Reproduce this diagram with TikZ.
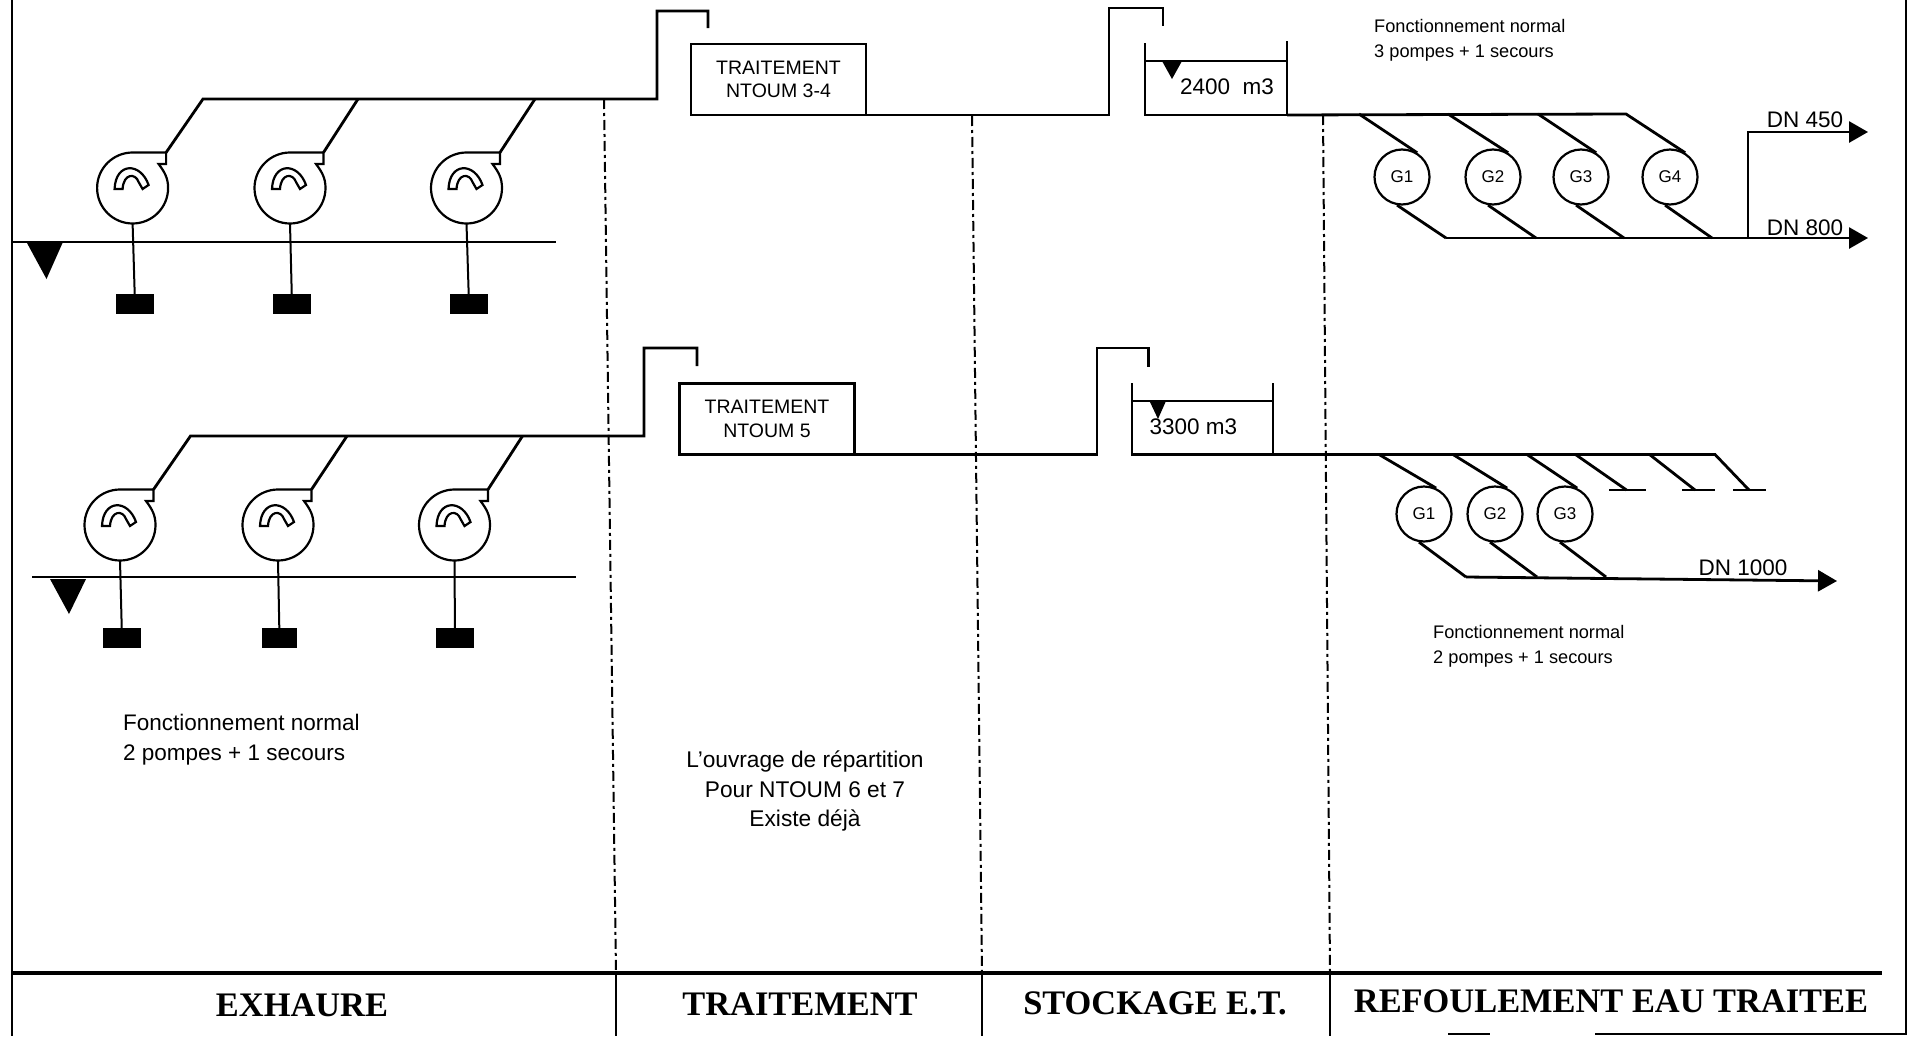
\documentclass[tikz,border=0pt]{standalone}
\usepackage{fontspec}
\setmainfont{Liberation Sans}
\newfontfamily\titrefont{Liberation Serif}
\usetikzlibrary{arrows.meta}
\newcommand{\taille}[1]{\fontsize{#1}{#1}\selectfont}
\tikzset{
    pompe/.pic = {
        \draw[pompeline] (33.5,-35.5) -- (0,-35.5) arc[start angle=90, end angle=360, radius=35.5pt]
            .. controls (35.5,-10) and (32,-16) .. (26,-24) -- (33.5,-24) -- cycle;
        \draw[pompeline] (-18,1) .. controls (-17,-26) and (8,-26) .. (16,-3) -- (10,1) -- (6,-6)
            .. controls (3,-15) and (-9,-15) .. (-10,1) -- cycle;
        \coordinate (-out) at (33.5,-35.5);
        \coordinate (-in) at (0,35.5);
    }
}
\begin{document}
\begin{tikzpicture}[x=1pt, y=-1pt,
        conduite/.style = {line width=2.8pt, line join=miter},
        fine/.style = {line width=2pt},
        pompeline/.style = {line width=2.2pt},
        cadre/.style = {line width=2.2pt},
        limite/.style = {line width=2pt, dash pattern=on 10pt off 4pt on 3pt off 4pt},
        fleche/.style = {line width=2.8pt, -{Triangle[length=19pt, width=21pt]}},
        main/.style = {draw, line width=2.4pt, inner sep=0pt, outer sep=0pt, align=center, font=\taille{19.5}},
        groupe/.style = {draw, circle, line width=2.2pt, inner sep=0pt, minimum size=55pt, font=\taille{17}},
        bloc/.style = {fill=black, inner sep=0pt, minimum width=38pt, minimum height=20pt},
        niveau/.style = {fill=black, draw=none},
        texte/.style = {inner sep=0pt, align=left, anchor=west},
        titre/.style = {inner sep=0pt, font=\titrefont\bfseries\taille{34.4}}]
    \useasboundingbox (0,0) rectangle (1910,1036);

    % cadre et colonnes
    \coordinate (cadreA) at (12,0);
    \coordinate (cadreB) at (12,1036);
    \coordinate (cadreC) at (1906,0);
    \coordinate (cadreD) at (1906,1034);
    \coordinate (cadreE) at (1595,1034);
    \coordinate (cadreF) at (1448,1034);
    \coordinate (cadreG) at (1490,1034);
    \coordinate (baseA) at (12,973);
    \coordinate (baseB) at (1882,973);
    \draw[cadre] (cadreA) -- (cadreB);
    \draw[cadre] (cadreC) -- (cadreD) -- (cadreE);
    \draw[cadre] (cadreF) -- (cadreG);
    \draw[line width=3.4pt] (baseA) -- (baseB);

    \coordinate (limA1) at (604,99);
    \coordinate (limA2) at (616,973);
    \coordinate (limA3) at (616,1036);
    \coordinate (limB1) at (972,116);
    \coordinate (limB2) at (982,973);
    \coordinate (limB3) at (982,1036);
    \coordinate (limC1) at (1323,115);
    \coordinate (limC2) at (1330,973);
    \coordinate (limC3) at (1330,1036);
    \draw[limite] (limA1) -- (limA2);
    \draw[limite] (limB1) -- (limB2);
    \draw[limite] (limC1) -- (limC2);
    \draw[fine] (limA2) -- (limA3);
    \draw[fine] (limB2) -- (limB3);
    \draw[fine] (limC2) -- (limC3);

    \node[titre] (exhaure) at (302,1005) {EXHAURE};
    \node[titre] (traitement) at (800,1004) {TRAITEMENT};
    \node[titre] (stockage) at (1155,1003) {STOCKAGE E.T.};
    \node[titre] (refoulement) at (1611,1001) {REFOULEMENT EAU TRAITEE};

    % ligne du haut : exhaure
    \pic (pA) at (132.6,188) {pompe};
    \pic (pB) at (290,188) {pompe};
    \pic (pC) at (466.5,188) {pompe};
    \node[bloc] (blocA) at (135,304) {};
    \node[bloc] (blocB) at (292,304) {};
    \node[bloc] (blocC) at (469,304) {};
    \coordinate (eauA) at (12,242);
    \coordinate (eauB) at (556,242);
    \draw[conduite] (eauA) -- (eauB);
    \draw[niveau] (27,243) -- (62.5,243) -- (46.5,279) -- cycle;
    \draw[fine] (pA-in) -- (blocA);
    \draw[fine] (pB-in) -- (blocB);
    \draw[fine] (pC-in) -- (blocC);

    \coordinate (haut1) at (203,99);
    \coordinate (haut2) at (358,99);
    \coordinate (haut3) at (535,99);
    \coordinate (haut4) at (657,99);
    \coordinate (haut5) at (657,11);
    \coordinate (haut6) at (708,11);
    \coordinate (haut7) at (708,28);
    \draw[conduite] (pA-out) -- (haut1) -- (haut4) -- (haut5) -- (haut6) -- (haut7);
    \draw[conduite] (pB-out) -- (haut2);
    \draw[conduite] (pC-out) -- (haut3);

    % ligne du haut : traitement et stockage
    \node[main, minimum width=175pt, minimum height=71pt] (traitA) at (778.5,79.5) {TRAITEMENT\\[4pt]NTOUM 3-4};
    \coordinate (tr1) at (1109,115);
    \coordinate (tr2) at (1109,8);
    \coordinate (tr3) at (1163,8);
    \coordinate (tr4) at (1163,26);
    \draw[conduite] (traitA.south east) -- (tr1) -- (tr2) -- (tr3) -- (tr4);

    \coordinate (cuveA1) at (1145,43);
    \coordinate (cuveA2) at (1145,115);
    \coordinate (cuveA3) at (1287,115);
    \coordinate (cuveA4) at (1287,41);
    \coordinate (cuveA5) at (1145,61);
    \coordinate (cuveA6) at (1287,61);
    \draw[conduite] (cuveA1) -- (cuveA2) -- (cuveA3) -- (cuveA4);
    \draw[conduite] (cuveA5) -- (cuveA6);
    \draw[niveau] (1162,61) -- (1182,61) -- (1172,79) -- cycle;
    \node[texte, font=\taille{22.5}] (volA) at (1180,87) {2400\ \ m3};
    \node[texte, font=\taille{18.2}] (noteA) at (1374,40) {Fonctionnement normal\\[6.5pt]3 pompes + 1 secours};

    % ligne du haut : refoulement
    \node[groupe] (gA1) at (1402,177) {G1};
    \node[groupe] (gA2) at (1493,177) {G2};
    \node[groupe] (gA3) at (1581,177) {G3};
    \node[groupe] (gA4) at (1670,177) {G4};
    \coordinate (colA1) at (1359,114);
    \coordinate (colA2) at (1448,114);
    \coordinate (colA3) at (1538,114);
    \coordinate (colA4) at (1626,114);
    \coordinate (refA1) at (1446,238);
    \coordinate (refA2) at (1536,238);
    \coordinate (refA3) at (1624,238);
    \coordinate (refA4) at (1712,238);
    \coordinate (refA5) at (1748,238);
    \coordinate (refA6) at (1748,132);
    \coordinate (refA7) at (1868,132);
    \coordinate (refA8) at (1868,238);
    \draw[conduite] (cuveA3) -- (colA4) -- (gA4.58);
    \draw[conduite] (colA1) -- (gA1.58);
    \draw[conduite] (colA2) -- (gA2.58);
    \draw[conduite] (colA3) -- (gA3.58);
    \draw[conduite] (gA1.260) -- (refA1);
    \draw[conduite] (gA2.260) -- (refA2);
    \draw[conduite] (gA3.260) -- (refA3);
    \draw[conduite] (gA4.260) -- (refA4);
    \draw[fleche] (refA1) -- (refA8);
    \draw[fleche] (refA5) -- (refA6) -- (refA7);
    \node[inner sep=0pt, font=\taille{22.5}] (dnA) at (1805,120) {DN 450};
    \node[inner sep=0pt, font=\taille{22.5}] (dnB) at (1805,228) {DN 800};

    % ligne du bas : exhaure
    \pic (pD) at (120,525) {pompe};
    \pic (pE) at (278,525) {pompe};
    \pic (pF) at (454.5,525) {pompe};
    \node[bloc] (blocD) at (122,638) {};
    \node[bloc, minimum width=35pt] (blocE) at (279.5,638) {};
    \node[bloc] (blocF) at (455,638) {};
    \coordinate (eauC) at (32,577);
    \coordinate (eauD) at (576,577);
    \draw[conduite] (eauC) -- (eauD);
    \draw[niveau] (50,579) -- (86,579) -- (69,614) -- cycle;
    \draw[fine] (pD-in) -- (blocD);
    \draw[fine] (pE-in) -- (blocE);
    \draw[fine] (pF-in) -- (blocF);

    \coordinate (bas1) at (190.5,436);
    \coordinate (bas2) at (347,436);
    \coordinate (bas3) at (522.5,436);
    \coordinate (bas4) at (644,436);
    \coordinate (bas5) at (644,348);
    \coordinate (bas6) at (697,348);
    \coordinate (bas7) at (697,366);
    \draw[conduite] (pD-out) -- (bas1) -- (bas4) -- (bas5) -- (bas6) -- (bas7);
    \draw[conduite] (pE-out) -- (bas2);
    \draw[conduite] (pF-out) -- (bas3);
    \node[texte, font=\taille{22.5}] (noteB) at (123,740) {Fonctionnement normal\\[7.5pt]2 pompes + 1 secours};

    % ligne du bas : traitement et stockage
    \node[main, minimum width=175pt, minimum height=71pt] (traitB) at (767,419) {TRAITEMENT\\[4pt]NTOUM 5};
    \coordinate (tr5) at (1097,454.5);
    \coordinate (tr6) at (1097,348);
    \coordinate (tr7) at (1148.5,348);
    \coordinate (tr8) at (1148.5,367);
    \draw[conduite] (traitB.south east) -- (tr5) -- (tr6) -- (tr7) -- (tr8);
    \node[inner sep=0pt, align=center, font=\taille{22.7}] (noteC) at (805,791) {L'ouvrage de répartition\\[6.5pt]Pour NTOUM 6 et 7\\[6.5pt]Existe déjà};

    \coordinate (cuveB1) at (1132,383);
    \coordinate (cuveB2) at (1132,454.5);
    \coordinate (cuveB3) at (1273,454.5);
    \coordinate (cuveB4) at (1273,383);
    \coordinate (cuveB5) at (1132,401);
    \coordinate (cuveB6) at (1273,401);
    \draw[conduite] (cuveB1) -- (cuveB2) -- (cuveB3) -- (cuveB4);
    \draw[conduite] (cuveB5) -- (cuveB6);
    \draw[niveau] (1149.5,401) -- (1166,401) -- (1158,419) -- cycle;
    \node[texte, font=\taille{22.5}] (volB) at (1149.5,427) {3300 m3};

    % ligne du bas : refoulement
    \node[groupe] (gB1) at (1424,514) {G1};
    \node[groupe] (gB2) at (1495,514) {G2};
    \node[groupe] (gB3) at (1565,514) {G3};
    \coordinate (colB1) at (1379,454.5);
    \coordinate (colB2) at (1453,454.5);
    \coordinate (colB3) at (1527,454.5);
    \coordinate (colB4) at (1575.5,454.5);
    \coordinate (colB5) at (1649.5,454.5);
    \coordinate (colB6) at (1715,454.5);
    \coordinate (stubA) at (1626.5,490);
    \coordinate (stubB) at (1695,490);
    \coordinate (stubC) at (1749,490);
    \coordinate (barA1) at (1609,490);
    \coordinate (barA2) at (1646,490);
    \coordinate (barB1) at (1682,490);
    \coordinate (barB2) at (1715,490);
    \coordinate (barC1) at (1733,490);
    \coordinate (barC2) at (1766,490);
    \coordinate (refB1) at (1466,577);
    \coordinate (refB2) at (1537,577);
    \coordinate (refB3) at (1606,577);
    \coordinate (refB4) at (1837,581);
    \draw[conduite] (cuveB3) -- (colB6) -- (stubC);
    \draw[conduite] (colB1) -- (gB1.65);
    \draw[conduite] (colB2) -- (gB2.65);
    \draw[conduite] (colB3) -- (gB3.65);
    \draw[conduite] (colB4) -- (stubA);
    \draw[conduite] (colB5) -- (stubB);
    \draw[conduite] (barA1) -- (barA2);
    \draw[conduite] (barB1) -- (barB2);
    \draw[conduite] (barC1) -- (barC2);
    \draw[conduite] (gB1.260) -- (refB1);
    \draw[conduite] (gB2.260) -- (refB2);
    \draw[conduite] (gB3.260) -- (refB3);
    \draw[fleche] (refB1) -- (refB4);
    \node[inner sep=0pt, font=\taille{22.5}] (dnC) at (1743,568) {DN 1000};
    \node[texte, font=\taille{18.2}] (noteD) at (1433,646) {Fonctionnement normal\\[6.5pt]2 pompes + 1 secours};
\end{tikzpicture}
\end{document}
